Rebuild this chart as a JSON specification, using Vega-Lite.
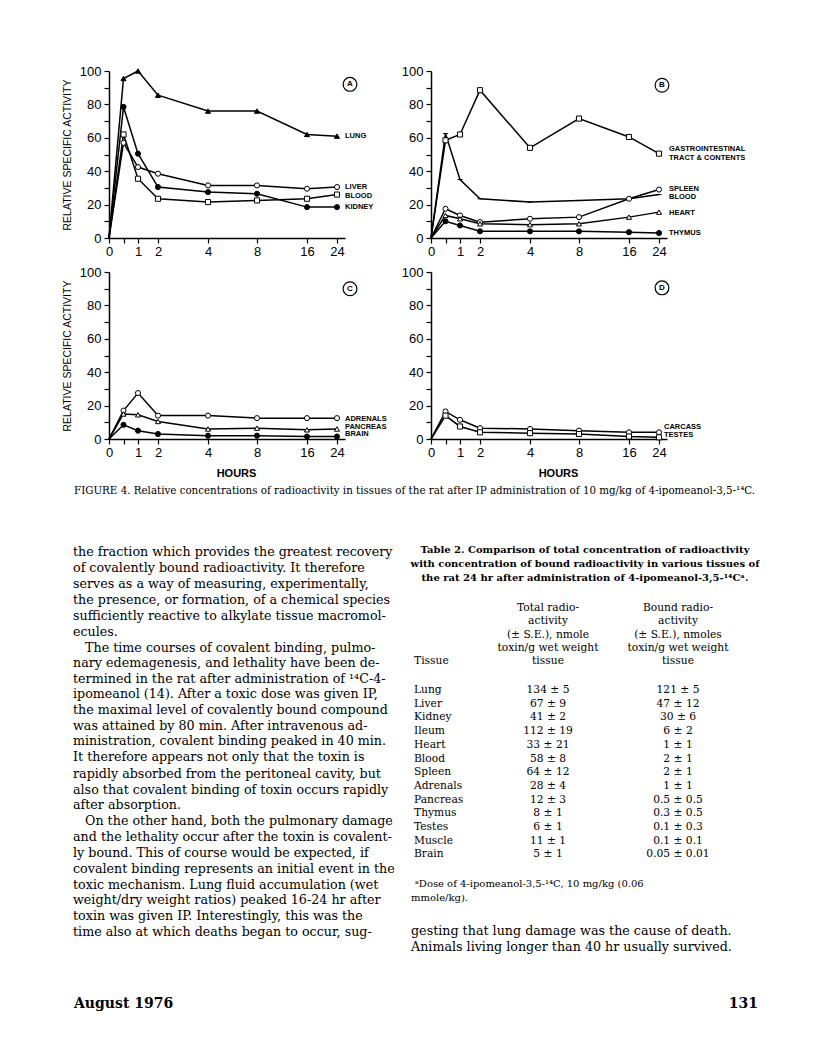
{
"$schema":"https://vega.github.io/schema/vega-lite/v6.json",
"background":"white",
"padding":{"left":62,"top":65,"right":0,"bottom":0},
"datasets":{
"curves":[
{"panel":"A","tissue":"LUNG","hours":0,"activity":0},{"panel":"A","tissue":"LUNG","hours":0.5,"activity":95.5},{"panel":"A","tissue":"LUNG","hours":1,"activity":100},{"panel":"A","tissue":"LUNG","hours":2,"activity":85.5},{"panel":"A","tissue":"LUNG","hours":4,"activity":76},{"panel":"A","tissue":"LUNG","hours":8,"activity":76},{"panel":"A","tissue":"LUNG","hours":16,"activity":62},{"panel":"A","tissue":"LUNG","hours":24,"activity":61},
{"panel":"A","tissue":"LIVER","hours":0,"activity":0},{"panel":"A","tissue":"LIVER","hours":0.5,"activity":57},{"panel":"A","tissue":"LIVER","hours":1,"activity":42.5},{"panel":"A","tissue":"LIVER","hours":2,"activity":38.5},{"panel":"A","tissue":"LIVER","hours":4,"activity":31.5},{"panel":"A","tissue":"LIVER","hours":8,"activity":31.5},{"panel":"A","tissue":"LIVER","hours":16,"activity":29.5},{"panel":"A","tissue":"LIVER","hours":24,"activity":30.5},
{"panel":"A","tissue":"BLOOD","hours":0,"activity":0},{"panel":"A","tissue":"BLOOD","hours":0.5,"activity":62},{"panel":"A","tissue":"BLOOD","hours":1,"activity":35.5},{"panel":"A","tissue":"BLOOD","hours":2,"activity":23.5},{"panel":"A","tissue":"BLOOD","hours":4,"activity":21.5},{"panel":"A","tissue":"BLOOD","hours":8,"activity":22.5},{"panel":"A","tissue":"BLOOD","hours":16,"activity":23.5},{"panel":"A","tissue":"BLOOD","hours":24,"activity":26},
{"panel":"A","tissue":"KIDNEY","hours":0,"activity":0},{"panel":"A","tissue":"KIDNEY","hours":0.5,"activity":78.5},{"panel":"A","tissue":"KIDNEY","hours":1,"activity":50.5},{"panel":"A","tissue":"KIDNEY","hours":2,"activity":30.5},{"panel":"A","tissue":"KIDNEY","hours":4,"activity":27.5},{"panel":"A","tissue":"KIDNEY","hours":8,"activity":26.5},{"panel":"A","tissue":"KIDNEY","hours":16,"activity":18.5},{"panel":"A","tissue":"KIDNEY","hours":24,"activity":18.5},
{"panel":"B","tissue":"GI","hours":0,"activity":0},{"panel":"B","tissue":"GI","hours":0.5,"activity":58.5},{"panel":"B","tissue":"GI","hours":1,"activity":62},{"panel":"B","tissue":"GI","hours":2,"activity":88.5},{"panel":"B","tissue":"GI","hours":4,"activity":54},{"panel":"B","tissue":"GI","hours":8,"activity":71.5},{"panel":"B","tissue":"GI","hours":16,"activity":60.5},{"panel":"B","tissue":"GI","hours":24,"activity":50.5},
{"panel":"B","tissue":"BLOOD","hours":0,"activity":0},{"panel":"B","tissue":"BLOOD","hours":0.5,"activity":62.5},{"panel":"B","tissue":"BLOOD","hours":1,"activity":35},{"panel":"B","tissue":"BLOOD","hours":2,"activity":23.5},{"panel":"B","tissue":"BLOOD","hours":4,"activity":21.5},{"panel":"B","tissue":"BLOOD","hours":8,"activity":22.5},{"panel":"B","tissue":"BLOOD","hours":16,"activity":23.5},{"panel":"B","tissue":"BLOOD","hours":24,"activity":26},
{"panel":"B","tissue":"SPLEEN","hours":0,"activity":0},{"panel":"B","tissue":"SPLEEN","hours":0.5,"activity":17.5},{"panel":"B","tissue":"SPLEEN","hours":1,"activity":13.5},{"panel":"B","tissue":"SPLEEN","hours":2,"activity":9.5},{"panel":"B","tissue":"SPLEEN","hours":4,"activity":11.5},{"panel":"B","tissue":"SPLEEN","hours":8,"activity":12.5},{"panel":"B","tissue":"SPLEEN","hours":16,"activity":23.5},{"panel":"B","tissue":"SPLEEN","hours":24,"activity":29},
{"panel":"B","tissue":"HEART","hours":0,"activity":0},{"panel":"B","tissue":"HEART","hours":0.5,"activity":13.5},{"panel":"B","tissue":"HEART","hours":1,"activity":11.5},{"panel":"B","tissue":"HEART","hours":2,"activity":8.5},{"panel":"B","tissue":"HEART","hours":4,"activity":8},{"panel":"B","tissue":"HEART","hours":8,"activity":8.5},{"panel":"B","tissue":"HEART","hours":16,"activity":12.5},{"panel":"B","tissue":"HEART","hours":24,"activity":15.5},
{"panel":"B","tissue":"THYMUS","hours":0,"activity":0},{"panel":"B","tissue":"THYMUS","hours":0.5,"activity":10},{"panel":"B","tissue":"THYMUS","hours":1,"activity":7.5},{"panel":"B","tissue":"THYMUS","hours":2,"activity":4},{"panel":"B","tissue":"THYMUS","hours":4,"activity":4},{"panel":"B","tissue":"THYMUS","hours":8,"activity":4},{"panel":"B","tissue":"THYMUS","hours":16,"activity":3.5},{"panel":"B","tissue":"THYMUS","hours":24,"activity":3},
{"panel":"C","tissue":"ADRENALS","hours":0,"activity":0},{"panel":"C","tissue":"ADRENALS","hours":0.5,"activity":17},{"panel":"C","tissue":"ADRENALS","hours":1,"activity":27.5},{"panel":"C","tissue":"ADRENALS","hours":2,"activity":14},{"panel":"C","tissue":"ADRENALS","hours":4,"activity":14},{"panel":"C","tissue":"ADRENALS","hours":8,"activity":12.5},{"panel":"C","tissue":"ADRENALS","hours":16,"activity":12.5},{"panel":"C","tissue":"ADRENALS","hours":24,"activity":12.5},
{"panel":"C","tissue":"PANCREAS","hours":0,"activity":0},{"panel":"C","tissue":"PANCREAS","hours":0.5,"activity":15},{"panel":"C","tissue":"PANCREAS","hours":1,"activity":14.5},{"panel":"C","tissue":"PANCREAS","hours":2,"activity":10.5},{"panel":"C","tissue":"PANCREAS","hours":4,"activity":6},{"panel":"C","tissue":"PANCREAS","hours":8,"activity":6.5},{"panel":"C","tissue":"PANCREAS","hours":16,"activity":5.5},{"panel":"C","tissue":"PANCREAS","hours":24,"activity":6},
{"panel":"C","tissue":"BRAIN","hours":0,"activity":0},{"panel":"C","tissue":"BRAIN","hours":0.5,"activity":8.5},{"panel":"C","tissue":"BRAIN","hours":1,"activity":5},{"panel":"C","tissue":"BRAIN","hours":2,"activity":3},{"panel":"C","tissue":"BRAIN","hours":4,"activity":2},{"panel":"C","tissue":"BRAIN","hours":8,"activity":2},{"panel":"C","tissue":"BRAIN","hours":16,"activity":1.5},{"panel":"C","tissue":"BRAIN","hours":24,"activity":1.5},
{"panel":"D","tissue":"CARCASS","hours":0,"activity":0},{"panel":"D","tissue":"CARCASS","hours":0.5,"activity":16.5},{"panel":"D","tissue":"CARCASS","hours":1,"activity":11.5},{"panel":"D","tissue":"CARCASS","hours":2,"activity":6.5},{"panel":"D","tissue":"CARCASS","hours":4,"activity":6},{"panel":"D","tissue":"CARCASS","hours":8,"activity":5},{"panel":"D","tissue":"CARCASS","hours":16,"activity":4},{"panel":"D","tissue":"CARCASS","hours":24,"activity":4},
{"panel":"D","tissue":"TESTES","hours":0,"activity":0},{"panel":"D","tissue":"TESTES","hours":0.5,"activity":14},{"panel":"D","tissue":"TESTES","hours":1,"activity":7.5},{"panel":"D","tissue":"TESTES","hours":2,"activity":4},{"panel":"D","tissue":"TESTES","hours":4,"activity":3.5},{"panel":"D","tissue":"TESTES","hours":8,"activity":3},{"panel":"D","tissue":"TESTES","hours":16,"activity":1.5},{"panel":"D","tissue":"TESTES","hours":24,"activity":1}
],
"labels":[
{"panel":"A","label":"LUNG","hours":24,"activity":61},{"panel":"A","label":"LIVER","hours":24,"activity":30.5},{"panel":"A","label":"BLOOD","hours":24,"activity":25},{"panel":"A","label":"KIDNEY","hours":24,"activity":18.4},
{"panel":"B","label":"GASTROINTESTINAL","hours":24,"activity":53},{"panel":"B","label":"TRACT & CONTENTS","hours":24,"activity":48},{"panel":"B","label":"SPLEEN","hours":24,"activity":29.2},{"panel":"B","label":"BLOOD","hours":24,"activity":24.4},{"panel":"B","label":"HEART","hours":24,"activity":15},{"panel":"B","label":"THYMUS","hours":24,"activity":3},
{"panel":"C","label":"ADRENALS","hours":24,"activity":11.8},{"panel":"C","label":"PANCREAS","hours":24,"activity":7.2},{"panel":"C","label":"BRAIN","hours":24,"activity":3},
{"panel":"D","label":"CARCASS","hours":24,"activity":7.2},{"panel":"D","label":"TESTES","hours":24,"activity":2.6}
],
"tags":[{"panel":"A","letter":"A","hours":24,"activity":92},{"panel":"B","letter":"B","hours":24,"activity":91.5},{"panel":"C","letter":"C","hours":24,"activity":90},{"panel":"D","letter":"D","hours":24,"activity":90.5}],
"rules":[{"v":597},{"v":679},{"v":872}],
"page":[
{"k":"cap","h":73,"v":492,"t":"FIGURE 4. Relative concentrations of radioactivity in tissues of the rat after IP administration of 10 mg/kg of 4-ipomeanol-3,5-¹⁴C."},
{"k":"body","h":72,"v":553,"t":"the fraction which provides the greatest recovery"},
{"k":"body","h":72,"v":569,"t":"of covalently bound radioactivity. It therefore"},
{"k":"body","h":72,"v":585,"t":"serves as a way of measuring, experimentally,"},
{"k":"body","h":72,"v":601,"t":"the presence, or formation, of a chemical species"},
{"k":"body","h":72,"v":617,"t":"sufficiently reactive to alkylate tissue macromol-"},
{"k":"body","h":72,"v":633,"t":"ecules."},
{"k":"body","h":84,"v":649,"t":"The time courses of covalent binding, pulmo-"},
{"k":"body","h":72,"v":664,"t":"nary edemagenesis, and lethality have been de-"},
{"k":"body","h":72,"v":680,"t":"termined  in the rat after administration of ¹⁴C-4-"},
{"k":"body","h":72,"v":695,"t":"ipomeanol (14). After a toxic dose was given IP,"},
{"k":"body","h":72,"v":711,"t":"the maximal level of covalently bound compound"},
{"k":"body","h":72,"v":727,"t":"was attained by 80 min. After intravenous ad-"},
{"k":"body","h":72,"v":742,"t":"ministration, covalent binding peaked in 40 min."},
{"k":"body","h":72,"v":758,"t":"It therefore appears not only that the toxin is"},
{"k":"body","h":72,"v":775,"t":"rapidly absorbed from the peritoneal cavity, but"},
{"k":"body","h":72,"v":791,"t":"also that covalent binding of toxin occurs rapidly"},
{"k":"body","h":72,"v":806,"t":"after absorption."},
{"k":"body","h":84,"v":822,"t":"On the other hand, both the pulmonary damage"},
{"k":"body","h":72,"v":838,"t":"and the lethality occur after the toxin is covalent-"},
{"k":"body","h":72,"v":854,"t":"ly bound. This of course would be expected, if"},
{"k":"body","h":72,"v":870,"t":"covalent binding represents an initial event in the"},
{"k":"body","h":72,"v":886,"t":"toxic mechanism. Lung fluid accumulation (wet"},
{"k":"body","h":72,"v":901,"t":"weight/dry weight ratios) peaked 16-24 hr after"},
{"k":"body","h":72,"v":917,"t":"toxin was given IP. Interestingly, this was the"},
{"k":"body","h":72,"v":933,"t":"time also at which deaths began to occur, sug-"},
{"k":"body","h":410,"v":932,"t":"gesting that lung damage was the cause of death."},
{"k":"body","h":410,"v":948,"t":"Animals living longer than 40 hr usually survived."},
{"k":"ttl","h":584,"v":551,"t":"Table 2. Comparison of total concentration of radioactivity"},
{"k":"ttl","h":584,"v":565,"t":"with concentration of bound radioactivity in various tissues of"},
{"k":"ttl","h":584,"v":579,"t":"the rat 24 hr after administration of 4-ipomeanol-3,5-¹⁴Cᵃ."},
{"k":"tc","h":547,"v":609,"t":"Total radio-"},{"k":"tc","h":547,"v":622,"t":"activity"},{"k":"tc","h":547,"v":636,"t":"(± S.E.), nmole"},{"k":"tc","h":547,"v":649,"t":"toxin/g wet weight"},{"k":"tc","h":547,"v":662,"t":"tissue"},
{"k":"tc","h":677,"v":609,"t":"Bound radio-"},{"k":"tc","h":677,"v":622,"t":"activity"},{"k":"tc","h":677,"v":636,"t":"(± S.E.), nmoles"},{"k":"tc","h":677,"v":649,"t":"toxin/g wet weight"},{"k":"tc","h":677,"v":662,"t":"tissue"},
{"k":"tl","h":413,"v":662,"t":"Tissue"},
{"k":"tl","h":413,"v":691,"t":"Lung"},{"k":"tc","h":547,"v":691,"t":"134 ± 5"},{"k":"tc","h":677,"v":691,"t":"121 ± 5"},
{"k":"tl","h":413,"v":704.7,"t":"Liver"},{"k":"tc","h":547,"v":704.7,"t":"67 ± 9"},{"k":"tc","h":677,"v":704.7,"t":"47 ± 12"},
{"k":"tl","h":413,"v":718.4,"t":"Kidney"},{"k":"tc","h":547,"v":718.4,"t":"41 ± 2"},{"k":"tc","h":677,"v":718.4,"t":"30 ± 6"},
{"k":"tl","h":413,"v":732.1,"t":"Ileum"},{"k":"tc","h":547,"v":732.1,"t":"112 ± 19"},{"k":"tc","h":677,"v":732.1,"t":"6 ± 2"},
{"k":"tl","h":413,"v":745.8,"t":"Heart"},{"k":"tc","h":547,"v":745.8,"t":"33 ± 21"},{"k":"tc","h":677,"v":745.8,"t":"1 ± 1"},
{"k":"tl","h":413,"v":759.5,"t":"Blood"},{"k":"tc","h":547,"v":759.5,"t":"58 ± 8"},{"k":"tc","h":677,"v":759.5,"t":"2 ± 1"},
{"k":"tl","h":413,"v":773.2,"t":"Spleen"},{"k":"tc","h":547,"v":773.2,"t":"64 ± 12"},{"k":"tc","h":677,"v":773.2,"t":"2 ± 1"},
{"k":"tl","h":413,"v":786.9,"t":"Adrenals"},{"k":"tc","h":547,"v":786.9,"t":"28 ± 4"},{"k":"tc","h":677,"v":786.9,"t":"1 ± 1"},
{"k":"tl","h":413,"v":800.6,"t":"Pancreas"},{"k":"tc","h":547,"v":800.6,"t":"12 ± 3"},{"k":"tc","h":677,"v":800.6,"t":"0.5 ± 0.5"},
{"k":"tl","h":413,"v":814.3,"t":"Thymus"},{"k":"tc","h":547,"v":814.3,"t":"8 ± 1"},{"k":"tc","h":677,"v":814.3,"t":"0.3 ± 0.5"},
{"k":"tl","h":413,"v":828,"t":"Testes"},{"k":"tc","h":547,"v":828,"t":"6 ± 1"},{"k":"tc","h":677,"v":828,"t":"0.1 ± 0.3"},
{"k":"tl","h":413,"v":841.7,"t":"Muscle"},{"k":"tc","h":547,"v":841.7,"t":"11 ± 1"},{"k":"tc","h":677,"v":841.7,"t":"0.1 ± 0.1"},
{"k":"tl","h":413,"v":855.4,"t":"Brain"},{"k":"tc","h":547,"v":855.4,"t":"5 ± 1"},{"k":"tc","h":677,"v":855.4,"t":"0.05 ± 0.01"},
{"k":"fn","h":414,"v":885,"t":"ᵃDose   of   4-ipomeanol-3,5-¹⁴C,   10   mg/kg   (0.06"},
{"k":"fn","h":410,"v":899,"t":"mmole/kg)."},
{"k":"footL","h":73,"v":1005,"t":"August 1976"},
{"k":"footR","h":757,"v":1005,"t":"131"}
]
},
"config":{
"view":{"stroke":null},
"axis":{"domainColor":"black","domainWidth":1.5,"tickColor":"black","tickWidth":1.2,"tickSize":5,"labelColor":"black","labelFont":"Liberation Sans","labelFontSize":13,"titleColor":"black","titleFont":"Liberation Sans","titleFontWeight":"normal","grid":false}
},
"columns":2,
"spacing":{"row":34,"column":86},
"bounds":"flush",
"resolve":{"scale":{"shape":"independent","fill":"independent","x":"independent","y":"independent"}},
"concat":[
{
"width":236,"height":167,
"encoding":{
"x":{"field":"hours","type":"quantitative","scale":{"domain":[0,1,2,4,8,16,24,26],"range":[0,29,49,99,148,198,228,236],"nice":false,"zero":false},"axis":{"values":[0,0.5,1,2,4,8,16,24],"labelExpr":"datum.value == 0.5 ? '' : format(datum.value,'d')","title":null,"labelOverlap":false,"labelFlush":false,"labelPadding":2}},
"y":{"field":"activity","type":"quantitative","scale":{"domain":[0,100],"nice":false},"axis":{"values":[0,10,20,30,40,50,60,70,80,90,100],"labelExpr":"datum.value % 20 == 0 ? format(datum.value,'d') : ''","title":"RELATIVE  SPECIFIC  ACTIVITY","titleFontSize":10.5,"titlePadding":7,"labelPadding":3}}
},
"layer":[
{"data":{"name":"curves"},"transform":[{"filter":"datum.panel=='A'"}],"mark":{"type":"line","color":"black","strokeWidth":1.5},"encoding":{"detail":{"field":"tissue"}}},
{"data":{"name":"curves"},"transform":[{"filter":"datum.panel=='A' && datum.hours > 0"}],"mark":{"type":"point","filled":true,"stroke":"black","strokeWidth":1,"size":26,"opacity":1},
"encoding":{"shape":{"field":"tissue","scale":{"domain":["LUNG","LIVER","BLOOD","KIDNEY"],"range":["triangle-up","circle","square","circle"]},"legend":null},"fill":{"field":"tissue","scale":{"domain":["LUNG","LIVER","BLOOD","KIDNEY"],"range":["black","white","white","black"]},"legend":null}}},
{"data":{"name":"labels"},"transform":[{"filter":"datum.panel=='A'"}],"mark":{"type":"text","align":"left","baseline":"middle","font":"Liberation Sans","fontSize":7.5,"fontWeight":"bold","color":"black","dx":8},"encoding":{"text":{"field":"label"}}},
{"data":{"name":"tags"},"transform":[{"filter":"datum.panel=='A'"}],"mark":{"type":"point","shape":"circle","size":190,"stroke":"black","strokeWidth":1.2,"fill":"white","filled":false,"opacity":1,"xOffset":13}},
{"data":{"name":"tags"},"transform":[{"filter":"datum.panel=='A'"}],"mark":{"type":"text","font":"Liberation Sans","fontSize":8,"fontWeight":"bold","color":"black","baseline":"middle","align":"center","dx":13},"encoding":{"text":{"field":"letter"}}}
]
},
{
"width":236,"height":167,
"encoding":{
"x":{"field":"hours","type":"quantitative","scale":{"domain":[0,1,2,4,8,16,24,26],"range":[0,29,49,99,148,198,228,236],"nice":false,"zero":false},"axis":{"values":[0,0.5,1,2,4,8,16,24],"labelExpr":"datum.value == 0.5 ? '' : format(datum.value,'d')","title":null,"labelOverlap":false,"labelFlush":false,"labelPadding":2}},
"y":{"field":"activity","type":"quantitative","scale":{"domain":[0,100],"nice":false},"axis":{"values":[0,10,20,30,40,50,60,70,80,90,100],"labelExpr":"datum.value % 20 == 0 ? format(datum.value,'d') : ''","title":null,"labelPadding":3}}
},
"layer":[
{"data":{"name":"curves"},"transform":[{"filter":"datum.panel=='B'"}],"mark":{"type":"line","color":"black","strokeWidth":1.5},"encoding":{"detail":{"field":"tissue"}}},
{"data":{"name":"curves"},"transform":[{"filter":"datum.panel=='B' && datum.hours > 0"}],"mark":{"type":"point","filled":true,"stroke":"black","strokeWidth":1,"size":26,"opacity":1},
"encoding":{"shape":{"field":"tissue","scale":{"domain":["GI","BLOOD","SPLEEN","HEART","THYMUS"],"range":["square","stroke","circle","triangle-up","circle"]},"legend":null},"fill":{"field":"tissue","scale":{"domain":["GI","BLOOD","SPLEEN","HEART","THYMUS"],"range":["white","black","white","white","black"]},"legend":null}}},
{"data":{"name":"labels"},"transform":[{"filter":"datum.panel=='B'"}],"mark":{"type":"text","align":"left","baseline":"middle","font":"Liberation Sans","fontSize":7.5,"fontWeight":"bold","color":"black","dx":10},"encoding":{"text":{"field":"label"}}},
{"data":{"name":"tags"},"transform":[{"filter":"datum.panel=='B'"}],"mark":{"type":"point","shape":"circle","size":190,"stroke":"black","strokeWidth":1.2,"fill":"white","filled":false,"opacity":1,"xOffset":3}},
{"data":{"name":"tags"},"transform":[{"filter":"datum.panel=='B'"}],"mark":{"type":"text","font":"Liberation Sans","fontSize":8,"fontWeight":"bold","color":"black","baseline":"middle","align":"center","dx":3},"encoding":{"text":{"field":"letter"}}}
]
},
{
"width":236,"height":167,
"resolve":{"scale":{"x":"independent","y":"independent"},"axis":{"x":"independent","y":"independent"}},
"layer":[
{
"encoding":{
"x":{"field":"hours","type":"quantitative","scale":{"domain":[0,1,2,4,8,16,24,26],"range":[0,29,49,99,148,198,228,236],"nice":false,"zero":false},"axis":{"values":[0,0.5,1,2,4,8,16,24],"labelExpr":"datum.value == 0.5 ? '' : format(datum.value,'d')","title":"HOURS","titleFontSize":11,"titleFontWeight":"bold","titlePadding":8,"titleX":127,"labelOverlap":false,"labelFlush":false,"labelPadding":2}},
"y":{"field":"activity","type":"quantitative","scale":{"domain":[0,100],"nice":false},"axis":{"values":[0,10,20,30,40,50,60,70,80,90,100],"labelExpr":"datum.value % 20 == 0 ? format(datum.value,'d') : ''","title":"RELATIVE  SPECIFIC  ACTIVITY","titleFontSize":10.5,"titlePadding":7,"labelPadding":3}}
},
"layer":[
{"data":{"name":"curves"},"transform":[{"filter":"datum.panel=='C'"}],"mark":{"type":"line","color":"black","strokeWidth":1.5},"encoding":{"detail":{"field":"tissue"}}},
{"data":{"name":"curves"},"transform":[{"filter":"datum.panel=='C' && datum.hours > 0"}],"mark":{"type":"point","filled":true,"stroke":"black","strokeWidth":1,"size":26,"opacity":1},
"encoding":{"shape":{"field":"tissue","scale":{"domain":["ADRENALS","PANCREAS","BRAIN"],"range":["circle","triangle-up","circle"]},"legend":null},"fill":{"field":"tissue","scale":{"domain":["ADRENALS","PANCREAS","BRAIN"],"range":["white","white","black"]},"legend":null}}},
{"data":{"name":"labels"},"transform":[{"filter":"datum.panel=='C'"}],"mark":{"type":"text","align":"left","baseline":"middle","font":"Liberation Sans","fontSize":7.5,"fontWeight":"bold","color":"black","dx":8},"encoding":{"text":{"field":"label"}}},
{"data":{"name":"tags"},"transform":[{"filter":"datum.panel=='C'"}],"mark":{"type":"point","shape":"circle","size":190,"stroke":"black","strokeWidth":1.2,"fill":"white","filled":false,"opacity":1,"xOffset":13}},
{"data":{"name":"tags"},"transform":[{"filter":"datum.panel=='C'"}],"mark":{"type":"text","font":"Liberation Sans","fontSize":8,"fontWeight":"bold","color":"black","baseline":"middle","align":"center","dx":13},"encoding":{"text":{"field":"letter"}}}
]
},
{
"data":{"name":"page"},
"encoding":{
"x":{"field":"h","type":"quantitative","scale":{"domain":[108,808],"range":[0,700],"nice":false,"zero":false},"axis":null},
"y":{"field":"v","type":"quantitative","scale":{"domain":[273,1063],"range":[0,790],"nice":false,"zero":false},"axis":null}
},
"layer":[
{"transform":[{"filter":"datum.k=='cap'"}],"mark":{"type":"text","align":"left","baseline":"middle","font":"DejaVu Serif","fontSize":10.3,"color":"black"},"encoding":{"text":{"field":"t"}}},
{"transform":[{"filter":"datum.k=='body'"}],"mark":{"type":"text","align":"left","baseline":"middle","font":"DejaVu Serif","fontSize":12.7,"color":"black"},"encoding":{"text":{"field":"t"}}},
{"transform":[{"filter":"datum.k=='ttl'"}],"mark":{"type":"text","align":"center","baseline":"middle","font":"DejaVu Serif","fontSize":10,"fontWeight":"bold","color":"black"},"encoding":{"text":{"field":"t"}}},
{"transform":[{"filter":"datum.k=='tc'"}],"mark":{"type":"text","align":"center","baseline":"middle","font":"DejaVu Serif","fontSize":10.7,"color":"black"},"encoding":{"text":{"field":"t"}}},
{"transform":[{"filter":"datum.k=='tl'"}],"mark":{"type":"text","align":"left","baseline":"middle","font":"DejaVu Serif","fontSize":10.7,"color":"black"},"encoding":{"text":{"field":"t"}}},
{"transform":[{"filter":"datum.k=='fn'"}],"mark":{"type":"text","align":"left","baseline":"middle","font":"DejaVu Serif","fontSize":10,"color":"black"},"encoding":{"text":{"field":"t"}}},
{"transform":[{"filter":"datum.k=='footL'"}],"mark":{"type":"text","align":"left","baseline":"middle","font":"DejaVu Serif","fontSize":14,"fontWeight":"bold","color":"black"},"encoding":{"text":{"field":"t"}}},
{"transform":[{"filter":"datum.k=='footR'"}],"mark":{"type":"text","align":"right","baseline":"middle","font":"DejaVu Serif","fontSize":14,"fontWeight":"bold","color":"black"},"encoding":{"text":{"field":"t"}}},
{"data":{"name":"rules"},"mark":{"type":"rule","color":"black","strokeWidth":1.5},"encoding":{"x":{"datum":410},"x2":{"datum":758},"y":{"field":"v","type":"quantitative"}}}
]
}
]
},
{
"width":236,"height":167,
"encoding":{
"x":{"field":"hours","type":"quantitative","scale":{"domain":[0,1,2,4,8,16,24,26],"range":[0,29,49,99,148,198,228,236],"nice":false,"zero":false},"axis":{"values":[0,0.5,1,2,4,8,16,24],"labelExpr":"datum.value == 0.5 ? '' : format(datum.value,'d')","title":"HOURS","titleFontSize":11,"titleFontWeight":"bold","titlePadding":8,"titleX":127,"labelOverlap":false,"labelFlush":false,"labelPadding":2}},
"y":{"field":"activity","type":"quantitative","scale":{"domain":[0,100],"nice":false},"axis":{"values":[0,10,20,30,40,50,60,70,80,90,100],"labelExpr":"datum.value % 20 == 0 ? format(datum.value,'d') : ''","title":null,"labelPadding":3}}
},
"layer":[
{"data":{"name":"curves"},"transform":[{"filter":"datum.panel=='D'"}],"mark":{"type":"line","color":"black","strokeWidth":1.5},"encoding":{"detail":{"field":"tissue"}}},
{"data":{"name":"curves"},"transform":[{"filter":"datum.panel=='D' && datum.hours > 0"}],"mark":{"type":"point","filled":true,"stroke":"black","strokeWidth":1,"size":26,"opacity":1},
"encoding":{"shape":{"field":"tissue","scale":{"domain":["CARCASS","TESTES"],"range":["circle","square"]},"legend":null},"fill":{"field":"tissue","scale":{"domain":["CARCASS","TESTES"],"range":["white","white"]},"legend":null}}},
{"data":{"name":"labels"},"transform":[{"filter":"datum.panel=='D'"}],"mark":{"type":"text","align":"left","baseline":"middle","font":"Liberation Sans","fontSize":7.5,"fontWeight":"bold","color":"black","dx":5},"encoding":{"text":{"field":"label"}}},
{"data":{"name":"tags"},"transform":[{"filter":"datum.panel=='D'"}],"mark":{"type":"point","shape":"circle","size":190,"stroke":"black","strokeWidth":1.2,"fill":"white","filled":false,"opacity":1,"xOffset":3}},
{"data":{"name":"tags"},"transform":[{"filter":"datum.panel=='D'"}],"mark":{"type":"text","font":"Liberation Sans","fontSize":8,"fontWeight":"bold","color":"black","baseline":"middle","align":"center","dx":3},"encoding":{"text":{"field":"letter"}}}
]
}
]
}
